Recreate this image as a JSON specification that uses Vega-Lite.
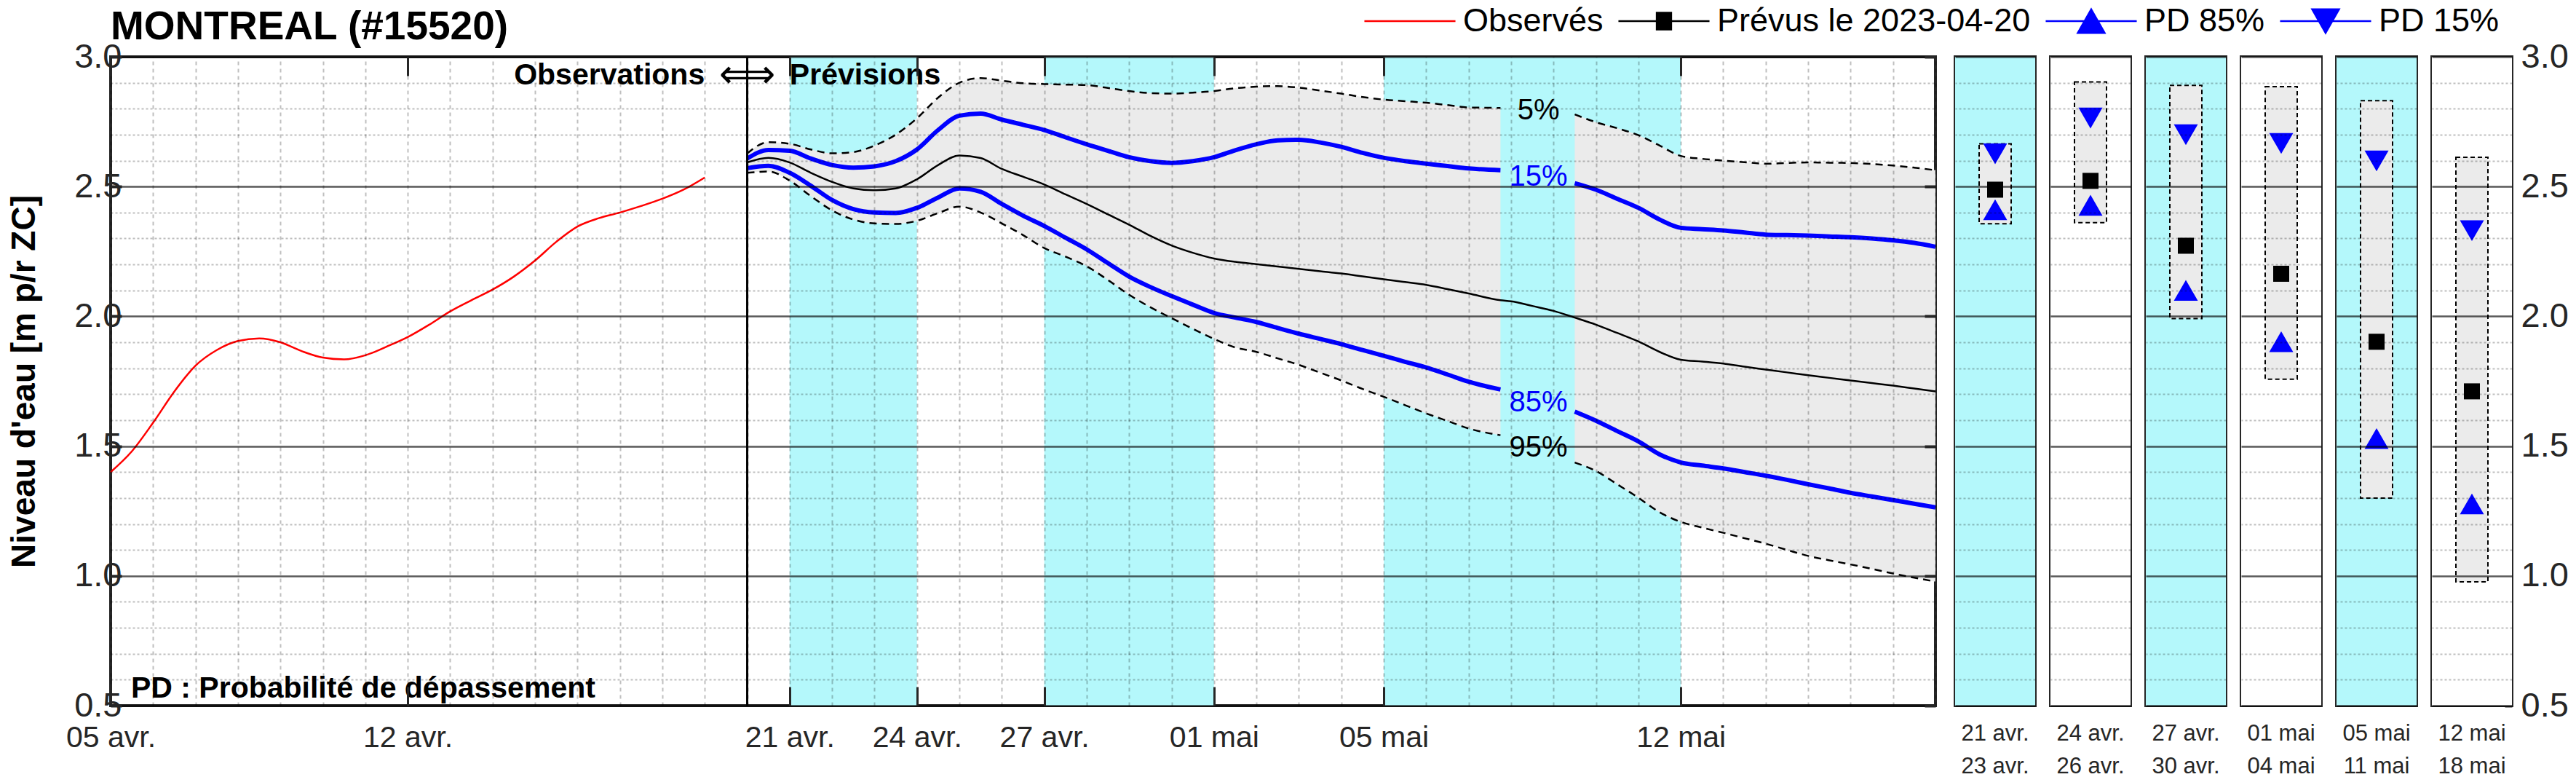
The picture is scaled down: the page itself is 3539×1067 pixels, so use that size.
{
  "$schema": "https://vega.github.io/schema/vega-lite/v6.json",
  "padding": {"left": 8, "top": 3, "right": 0, "bottom": 0},
  "background": "white",
  "config": {
    "font": "Liberation Sans",
    "view": {"stroke": "#262626", "strokeWidth": 4},
    "axis": {"labelColor": "#262626", "labelFont": "Liberation Sans"}
  },
  "datasets": {
    "obs": [
      {"t": "2023-04-05T00:00Z", "v": 1.40}, {"t": "2023-04-05T12:00Z", "v": 1.48},
      {"t": "2023-04-06T00:00Z", "v": 1.59}, {"t": "2023-04-06T12:00Z", "v": 1.71},
      {"t": "2023-04-07T00:00Z", "v": 1.81}, {"t": "2023-04-07T12:00Z", "v": 1.87},
      {"t": "2023-04-08T00:00Z", "v": 1.905}, {"t": "2023-04-08T12:00Z", "v": 1.915},
      {"t": "2023-04-09T00:00Z", "v": 1.90}, {"t": "2023-04-09T12:00Z", "v": 1.866},
      {"t": "2023-04-10T00:00Z", "v": 1.841}, {"t": "2023-04-10T12:00Z", "v": 1.834},
      {"t": "2023-04-11T00:00Z", "v": 1.85}, {"t": "2023-04-11T12:00Z", "v": 1.883},
      {"t": "2023-04-12T00:00Z", "v": 1.92}, {"t": "2023-04-12T12:00Z", "v": 1.967},
      {"t": "2023-04-13T00:00Z", "v": 2.019}, {"t": "2023-04-13T12:00Z", "v": 2.062},
      {"t": "2023-04-14T00:00Z", "v": 2.103}, {"t": "2023-04-14T12:00Z", "v": 2.153},
      {"t": "2023-04-15T00:00Z", "v": 2.215}, {"t": "2023-04-15T12:00Z", "v": 2.287},
      {"t": "2023-04-16T00:00Z", "v": 2.346}, {"t": "2023-04-16T12:00Z", "v": 2.378},
      {"t": "2023-04-17T00:00Z", "v": 2.40}, {"t": "2023-04-17T12:00Z", "v": 2.425},
      {"t": "2023-04-18T00:00Z", "v": 2.453}, {"t": "2023-04-18T12:00Z", "v": 2.488},
      {"t": "2023-04-19T00:00Z", "v": 2.535}
    ],
    "fc": [
      {"t": "2023-04-20T00:00Z", "p5": 2.628, "p15": 2.608, "med": 2.593, "p85": 2.571, "p95": 2.553},
      {"t": "2023-04-20T12:00Z", "p5": 2.671, "p15": 2.641, "med": 2.611, "p85": 2.580, "p95": 2.558},
      {"t": "2023-04-21T00:00Z", "p5": 2.665, "p15": 2.638, "med": 2.593, "p85": 2.553, "p95": 2.523},
      {"t": "2023-04-21T12:00Z", "p5": 2.643, "p15": 2.608, "med": 2.553, "p85": 2.503, "p95": 2.463},
      {"t": "2023-04-22T00:00Z", "p5": 2.628, "p15": 2.583, "med": 2.518, "p85": 2.448, "p95": 2.408},
      {"t": "2023-04-22T12:00Z", "p5": 2.633, "p15": 2.573, "med": 2.493, "p85": 2.413, "p95": 2.373},
      {"t": "2023-04-23T00:00Z", "p5": 2.658, "p15": 2.578, "med": 2.486, "p85": 2.400, "p95": 2.358},
      {"t": "2023-04-23T12:00Z", "p5": 2.700, "p15": 2.598, "med": 2.493, "p85": 2.398, "p95": 2.356},
      {"t": "2023-04-24T00:00Z", "p5": 2.763, "p15": 2.643, "med": 2.528, "p85": 2.418, "p95": 2.368},
      {"t": "2023-04-24T12:00Z", "p5": 2.843, "p15": 2.718, "med": 2.583, "p85": 2.458, "p95": 2.398},
      {"t": "2023-04-25T00:00Z", "p5": 2.900, "p15": 2.773, "med": 2.620, "p85": 2.493, "p95": 2.423},
      {"t": "2023-04-25T12:00Z", "p5": 2.918, "p15": 2.781, "med": 2.610, "p85": 2.480, "p95": 2.400},
      {"t": "2023-04-26T00:00Z", "p5": 2.908, "p15": 2.758, "med": 2.568, "p85": 2.433, "p95": 2.358},
      {"t": "2023-04-26T12:00Z", "p5": 2.898, "p15": 2.738, "med": 2.538, "p85": 2.388, "p95": 2.313},
      {"t": "2023-04-27T00:00Z", "p5": 2.895, "p15": 2.718, "med": 2.508, "p85": 2.348, "p95": 2.263},
      {"t": "2023-04-27T12:00Z", "p5": 2.893, "p15": 2.690, "med": 2.470, "p85": 2.303, "p95": 2.230},
      {"t": "2023-04-28T00:00Z", "p5": 2.891, "p15": 2.663, "med": 2.433, "p85": 2.258, "p95": 2.193},
      {"t": "2023-04-28T12:00Z", "p5": 2.880, "p15": 2.638, "med": 2.393, "p85": 2.205, "p95": 2.140},
      {"t": "2023-04-29T00:00Z", "p5": 2.868, "p15": 2.613, "med": 2.353, "p85": 2.153, "p95": 2.083},
      {"t": "2023-04-29T12:00Z", "p5": 2.860, "p15": 2.598, "med": 2.310, "p85": 2.113, "p95": 2.035},
      {"t": "2023-04-30T00:00Z", "p5": 2.858, "p15": 2.591, "med": 2.273, "p85": 2.078, "p95": 1.993},
      {"t": "2023-04-30T12:00Z", "p5": 2.862, "p15": 2.598, "med": 2.245, "p85": 2.045, "p95": 1.952},
      {"t": "2023-05-01T00:00Z", "p5": 2.868, "p15": 2.613, "med": 2.223, "p85": 2.013, "p95": 1.913},
      {"t": "2023-05-01T12:00Z", "p5": 2.879, "p15": 2.640, "med": 2.210, "p85": 1.995, "p95": 1.880},
      {"t": "2023-05-02T00:00Z", "p5": 2.885, "p15": 2.663, "med": 2.201, "p85": 1.978, "p95": 1.863},
      {"t": "2023-05-02T12:00Z", "p5": 2.887, "p15": 2.678, "med": 2.192, "p85": 1.955, "p95": 1.838},
      {"t": "2023-05-03T00:00Z", "p5": 2.881, "p15": 2.680, "med": 2.183, "p85": 1.933, "p95": 1.813},
      {"t": "2023-05-03T12:00Z", "p5": 2.870, "p15": 2.670, "med": 2.174, "p85": 1.913, "p95": 1.783},
      {"t": "2023-05-04T00:00Z", "p5": 2.858, "p15": 2.653, "med": 2.165, "p85": 1.893, "p95": 1.753},
      {"t": "2023-05-04T12:00Z", "p5": 2.845, "p15": 2.630, "med": 2.154, "p85": 1.870, "p95": 1.720},
      {"t": "2023-05-05T00:00Z", "p5": 2.835, "p15": 2.611, "med": 2.143, "p85": 1.848, "p95": 1.690},
      {"t": "2023-05-05T12:00Z", "p5": 2.829, "p15": 2.598, "med": 2.132, "p85": 1.825, "p95": 1.658},
      {"t": "2023-05-06T00:00Z", "p5": 2.823, "p15": 2.588, "med": 2.121, "p85": 1.803, "p95": 1.626},
      {"t": "2023-05-06T12:00Z", "p5": 2.814, "p15": 2.579, "med": 2.105, "p85": 1.776, "p95": 1.597},
      {"t": "2023-05-07T00:00Z", "p5": 2.805, "p15": 2.570, "med": 2.088, "p85": 1.748, "p95": 1.568},
      {"t": "2023-05-07T18:00Z", "p5": 2.803, "p15": 2.563, "med": 2.062, "p85": 1.718, "p95": 1.542},
      {"t": "2023-05-08T00:00Z", "p5": null, "p15": null, "med": 2.058, "p85": null, "p95": null},
      {"t": "2023-05-08T12:00Z", "p5": null, "p15": null, "med": 2.040, "p85": null, "p95": null},
      {"t": "2023-05-09T00:00Z", "p5": null, "p15": null, "med": 2.021, "p85": null, "p95": null},
      {"t": "2023-05-09T12:00Z", "p5": 2.778, "p15": 2.513, "med": 1.995, "p85": 1.633, "p95": 1.437},
      {"t": "2023-05-10T00:00Z", "p5": 2.748, "p15": 2.488, "med": 1.968, "p85": 1.598, "p95": 1.404},
      {"t": "2023-05-10T12:00Z", "p5": 2.725, "p15": 2.453, "med": 1.936, "p85": 1.558, "p95": 1.353},
      {"t": "2023-05-11T00:00Z", "p5": 2.698, "p15": 2.418, "med": 1.903, "p85": 1.518, "p95": 1.301},
      {"t": "2023-05-11T12:00Z", "p5": 2.658, "p15": 2.373, "med": 1.863, "p85": 1.468, "p95": 1.245},
      {"t": "2023-05-12T00:00Z", "p5": 2.618, "p15": 2.341, "med": 1.833, "p85": 1.437, "p95": 1.208},
      {"t": "2023-05-12T12:00Z", "p5": 2.607, "p15": 2.336, "med": 1.826, "p85": 1.425, "p95": 1.186},
      {"t": "2023-05-13T00:00Z", "p5": 2.600, "p15": 2.331, "med": 1.818, "p85": 1.414, "p95": 1.166},
      {"t": "2023-05-13T12:00Z", "p5": 2.594, "p15": 2.323, "med": 1.806, "p85": 1.400, "p95": 1.145},
      {"t": "2023-05-14T00:00Z", "p5": 2.588, "p15": 2.315, "med": 1.795, "p85": 1.386, "p95": 1.124},
      {"t": "2023-05-14T12:00Z", "p5": 2.591, "p15": 2.313, "med": 1.784, "p85": 1.370, "p95": 1.100},
      {"t": "2023-05-15T00:00Z", "p5": 2.593, "p15": 2.311, "med": 1.773, "p85": 1.353, "p95": 1.077},
      {"t": "2023-05-15T12:00Z", "p5": 2.592, "p15": 2.308, "med": 1.763, "p85": 1.337, "p95": 1.060},
      {"t": "2023-05-16T00:00Z", "p5": 2.591, "p15": 2.305, "med": 1.753, "p85": 1.320, "p95": 1.044},
      {"t": "2023-05-16T12:00Z", "p5": 2.587, "p15": 2.300, "med": 1.743, "p85": 1.306, "p95": 1.027},
      {"t": "2023-05-17T00:00Z", "p5": 2.581, "p15": 2.293, "med": 1.733, "p85": 1.292, "p95": 1.009},
      {"t": "2023-05-17T12:00Z", "p5": 2.573, "p15": 2.283, "med": 1.722, "p85": 1.278, "p95": 0.993},
      {"t": "2023-05-18T00:00Z", "p5": 2.563, "p15": 2.268, "med": 1.711, "p85": 1.264, "p95": 0.978}
    ],
    "bandes": [
      {"debut": "2023-04-21T00:00Z", "fin": "2023-04-24T00:00Z"},
      {"debut": "2023-04-27T00:00Z", "fin": "2023-05-01T00:00Z"},
      {"debut": "2023-05-05T00:00Z", "fin": "2023-05-12T00:00Z"}
    ],
    "pct": [
      {"t": "2023-05-08T15:30Z", "v": 2.793, "lab": "5%", "serie": "noir"},
      {"t": "2023-05-08T15:30Z", "v": 2.538, "lab": "15%", "serie": "bleu"},
      {"t": "2023-05-08T15:30Z", "v": 1.668, "lab": "85%", "serie": "bleu"},
      {"t": "2023-05-08T15:30Z", "v": 1.493, "lab": "95%", "serie": "noir"}
    ],
    "series": [
      {"serie": "Observés"},
      {"serie": "Prévus le 2023-04-20"},
      {"serie": "PD 85%"},
      {"serie": "PD 15%"}
    ],
    "periodes": [
      {"per": "21 avr.|23 avr.", "fond": "cyan", "haut": 2.665, "bas": 2.357, "med": 2.488, "p15": 2.626, "p85": 2.411},
      {"per": "24 avr.|26 avr.", "fond": "blanc", "haut": 2.903, "bas": 2.361, "med": 2.522, "p15": 2.764, "p85": 2.428},
      {"per": "27 avr.|30 avr.", "fond": "cyan", "haut": 2.890, "bas": 1.991, "med": 2.272, "p15": 2.700, "p85": 2.100},
      {"per": "01 mai|04 mai", "fond": "blanc", "haut": 2.885, "bas": 1.758, "med": 2.164, "p15": 2.666, "p85": 1.902},
      {"per": "05 mai|11 mai", "fond": "cyan", "haut": 2.831, "bas": 1.300, "med": 1.902, "p15": 2.599, "p85": 1.529},
      {"per": "12 mai|18 mai", "fond": "blanc", "haut": 2.613, "bas": 0.977, "med": 1.711, "p15": 2.330, "p85": 1.277}
    ]
  },
  "bounds": "flush",
  "spacing": 27,
  "resolve": {
    "scale": {"x": "independent", "y": "independent", "fill": "independent", "stroke": "independent", "shape": "independent", "strokeWidth": "independent"},
    "legend": {"fill": "independent", "stroke": "independent", "shape": "independent", "strokeWidth": "independent"}
  },
  "hconcat": [
    {
      "width": 2507,
      "height": 891,
      "title": {"text": "MONTREAL (#15520)", "anchor": "start", "frame": "group", "fontSize": 55, "font": "Liberation Sans", "fontWeight": "bold", "color": "#000000", "offset": -61},
      "resolve": {"axis": {"x": "independent", "y": "independent"}},
      "layer": [
        {
          "data": {"name": "bandes"},
          "mark": {"type": "rect", "color": "#B4F8FB"},
          "encoding": {
            "x": {
              "field": "debut", "type": "temporal",
              "scale": {"type": "utc", "domain": [{"year": 2023, "month": 4, "date": 5, "utc": true}, {"year": 2023, "month": 5, "date": 18, "utc": true}]},
              "axis": {
                "orient": "bottom",
                "title": null,
                "tickCount": {"interval": "day", "step": 1},
                "labelExpr": "indexof(['04-05','04-12','04-21','04-24','04-27','05-01','05-05','05-12'], utcFormat(datum.value, '%m-%d')) >= 0 ? utcFormat(datum.value, '%d') + (utcmonth(datum.value) == 3 ? ' avr.' : ' mai') : ''",
                "labelOverlap": false,
                "labelFlush": false,
                "labelFontSize": 41,
                "labelPadding": 50,
                "domain": false,
                "grid": true,
                "gridColor": "rgba(0,0,0,0.25)",
                "gridDash": [5, 5],
                "gridWidth": 2,
                "ticks": true,
                "tickSize": -26,
                "tickWidth": 3,
                "tickColor": "#262626",
                "tickOpacity": {"condition": {"test": "indexof(['04-05','04-12','04-21','04-24','04-27','05-01','05-05','05-12'], utcFormat(datum.value, '%m-%d')) >= 0", "value": 1}, "value": 0},
                "zindex": 1
              }
            },
            "x2": {"field": "fin"}
          }
        },
        {
          "data": {"name": "fc"},
          "mark": {"type": "area", "color": "#EBEBEB", "interpolate": "monotone"},
          "encoding": {
            "x": {
              "field": "t", "type": "temporal",
              "axis": {
                "orient": "top", "title": null, "labels": false, "grid": false, "domain": false,
                "tickCount": {"interval": "day", "step": 1},
                "ticks": true, "tickSize": -26, "tickWidth": 3, "tickColor": "#262626",
                "tickOpacity": {"condition": {"test": "indexof(['04-05','04-12','04-21','04-24','04-27','05-01','05-05','05-12'], utcFormat(datum.value, '%m-%d')) >= 0", "value": 1}, "value": 0},
                "zindex": 1
              }
            },
            "y": {
              "field": "p5", "type": "quantitative",
              "scale": {"domain": [0.5, 3.0], "nice": false, "zero": false},
              "axis": {
                "orient": "left",
                "title": "Niveau d'eau [m p/r ZC]",
                "titleFontSize": 46,
                "titleFontWeight": "bold",
                "titleFont": "Liberation Sans",
                "titleColor": "#000000",
                "titlePadding": 44,
                "values": [0.5, 0.6, 0.7, 0.8, 0.9, 1.0, 1.1, 1.2, 1.3, 1.4, 1.5, 1.6, 1.7, 1.8, 1.9, 2.0, 2.1, 2.2, 2.3, 2.4, 2.5, 2.6, 2.7, 2.8, 2.9, 3.0],
                "labelExpr": "abs(datum.value * 2 - round(datum.value * 2)) < 0.001 ? format(datum.value, '.1f') : ''",
                "labelOverlap": false,
                "labelFontSize": 47,
                "labelPadding": 0,
                "domain": false,
                "grid": true,
                "gridColor": {"condition": {"test": "abs(datum.value * 2 - round(datum.value * 2)) < 0.001", "value": "rgba(0,0,0,0.65)"}, "value": "rgba(0,0,0,0.25)"},
                "gridDash": {"condition": {"test": "abs(datum.value * 2 - round(datum.value * 2)) < 0.001", "value": []}, "value": [3, 3]},
                "gridWidth": {"condition": {"test": "abs(datum.value * 2 - round(datum.value * 2)) < 0.001", "value": 2.5}, "value": 2},
                "ticks": true,
                "tickSize": -15,
                "tickWidth": 4,
                "tickColor": "#262626",
                "tickOpacity": {"condition": {"test": "abs(datum.value * 2 - round(datum.value * 2)) < 0.001", "value": 1}, "value": 0},
                "zindex": 1
              }
            },
            "y2": {"field": "p95"}
          }
        },
        {
          "data": {"name": "fc"},
          "mark": {"type": "line", "color": "#000000", "strokeWidth": 2.5, "strokeDash": [10, 7], "interpolate": "monotone", "invalid": "break-paths-show-domains"},
          "encoding": {"x": {"field": "t", "type": "temporal", "axis": null}, "y": {"field": "p5", "type": "quantitative", "axis": null}}
        },
        {
          "data": {"name": "fc"},
          "mark": {"type": "line", "color": "#000000", "strokeWidth": 2.5, "strokeDash": [10, 7], "interpolate": "monotone", "invalid": "break-paths-show-domains"},
          "encoding": {"x": {"field": "t", "type": "temporal", "axis": null}, "y": {"field": "p95", "type": "quantitative", "axis": null}}
        },
        {
          "data": {"name": "fc"},
          "mark": {"type": "line", "color": "#000000", "strokeWidth": 2.5, "interpolate": "monotone"},
          "encoding": {"x": {"field": "t", "type": "temporal", "axis": null}, "y": {"field": "med", "type": "quantitative", "axis": null}}
        },
        {
          "data": {"name": "fc"},
          "mark": {"type": "line", "color": "#0000FF", "strokeWidth": 6, "interpolate": "monotone", "invalid": "break-paths-show-domains"},
          "encoding": {"x": {"field": "t", "type": "temporal", "axis": null}, "y": {"field": "p15", "type": "quantitative", "axis": null}}
        },
        {
          "data": {"name": "fc"},
          "mark": {"type": "line", "color": "#0000FF", "strokeWidth": 6, "interpolate": "monotone", "invalid": "break-paths-show-domains"},
          "encoding": {"x": {"field": "t", "type": "temporal", "axis": null}, "y": {"field": "p85", "type": "quantitative", "axis": null}}
        },
        {
          "data": {"name": "obs"},
          "mark": {"type": "line", "color": "#FF0000", "strokeWidth": 2.5, "interpolate": "monotone"},
          "encoding": {
            "x": {"field": "t", "type": "temporal", "axis": null},
            "y": {
              "field": "v", "type": "quantitative",
              "axis": {
                "orient": "right", "title": null, "labels": false, "grid": false, "domain": false,
                "values": [0.5, 1.0, 1.5, 2.0, 2.5, 3.0],
                "ticks": true, "tickSize": -15, "tickWidth": 4, "tickColor": "#262626", "zindex": 1
              }
            }
          }
        },
        {
          "data": {"values": [{"t": "2023-04-20T00:00Z"}]},
          "mark": {"type": "rule", "color": "#000000", "strokeWidth": 3},
          "encoding": {"x": {"field": "t", "type": "temporal", "axis": null}}
        },
        {
          "data": {"name": "pct"},
          "transform": [{"filter": "datum.serie == 'noir'"}],
          "mark": {"type": "text", "fontSize": 40, "font": "Liberation Sans", "color": "#000000", "align": "center", "baseline": "middle"},
          "encoding": {"x": {"field": "t", "type": "temporal", "axis": null}, "y": {"field": "v", "type": "quantitative", "axis": null}, "text": {"field": "lab"}}
        },
        {
          "data": {"name": "pct"},
          "transform": [{"filter": "datum.serie == 'bleu'"}],
          "mark": {"type": "text", "fontSize": 40, "font": "Liberation Sans", "color": "#0000FF", "align": "center", "baseline": "middle"},
          "encoding": {"x": {"field": "t", "type": "temporal", "axis": null}, "y": {"field": "v", "type": "quantitative", "axis": null}, "text": {"field": "lab"}}
        },
        {
          "data": {"values": [{"t": "2023-04-19T00:00Z", "v": 2.927, "txt": "Observations"}]},
          "mark": {"type": "text", "fontSize": 41, "font": "Liberation Sans", "fontWeight": "bold", "color": "#000000", "align": "right", "baseline": "middle"},
          "encoding": {"x": {"field": "t", "type": "temporal", "axis": null}, "y": {"field": "v", "type": "quantitative", "axis": null}, "text": {"field": "txt"}}
        },
        {
          "data": {"values": [{"t": "2023-04-20T00:00Z", "v": 2.927, "txt": "⟺"}]},
          "mark": {"type": "text", "fontSize": 54, "font": "DejaVu Sans", "color": "#000000", "align": "center", "baseline": "middle"},
          "encoding": {"x": {"field": "t", "type": "temporal", "axis": null}, "y": {"field": "v", "type": "quantitative", "axis": null}, "text": {"field": "txt"}}
        },
        {
          "data": {"values": [{"t": "2023-04-21T00:00Z", "v": 2.927, "txt": "Prévisions"}]},
          "mark": {"type": "text", "fontSize": 41, "font": "Liberation Sans", "fontWeight": "bold", "color": "#000000", "align": "left", "baseline": "middle"},
          "encoding": {"x": {"field": "t", "type": "temporal", "axis": null}, "y": {"field": "v", "type": "quantitative", "axis": null}, "text": {"field": "txt"}}
        },
        {
          "data": {"values": [{"t": "2023-04-05T11:30Z", "v": 0.532, "txt": "PD : Probabilité de dépassement"}]},
          "mark": {"type": "text", "fontSize": 41, "font": "Liberation Sans", "fontWeight": "bold", "color": "#000000", "align": "left", "baseline": "alphabetic"},
          "encoding": {"x": {"field": "t", "type": "temporal", "axis": null}, "y": {"field": "v", "type": "quantitative", "axis": null}, "text": {"field": "txt"}}
        },
        {
          "data": {"name": "series"},
          "mark": {"type": "point", "opacity": 0},
          "encoding": {
            "x": {"datum": {"year": 2023, "month": 4, "date": 10, "utc": true}, "type": "temporal", "axis": null},
            "y": {"datum": 1.0, "type": "quantitative", "axis": null},
            "fill": {
              "field": "serie", "type": "nominal",
              "scale": {"domain": ["Observés", "Prévus le 2023-04-20", "PD 85%", "PD 15%"], "range": ["#FF0000", "#000000", "#0000FF", "#0000FF"]},
              "legend": {"orient": "none", "legendX": 1761, "legendY": -73, "direction": "horizontal", "columns": 4, "title": null, "symbolSize": 2025, "symbolOpacity": 1, "labelFontSize": 45, "labelFont": "Liberation Sans", "labelColor": "#000000", "labelOffset": 49, "columnPadding": 15, "labelLimit": 0, "padding": 0}
            },
            "stroke": {
              "field": "serie", "type": "nominal",
              "scale": {"domain": ["Observés", "Prévus le 2023-04-20", "PD 85%", "PD 15%"], "range": ["#FF0000", "#000000", "#0000FF", "#0000FF"]},
              "legend": {"orient": "none", "legendX": 1761, "legendY": -73, "direction": "horizontal", "columns": 4, "title": null, "symbolSize": 2025, "symbolOpacity": 1, "labelFontSize": 45, "labelFont": "Liberation Sans", "labelColor": "#000000", "labelOffset": 49, "columnPadding": 15, "labelLimit": 0, "padding": 0}
            },
            "shape": {
              "field": "serie", "type": "nominal",
              "scale": {"domain": ["Observés", "Prévus le 2023-04-20", "PD 85%", "PD 15%"], "range": ["M-2.78,0H2.78", "M-2.78,0H2.78M-0.44,-0.51H0.44V0.51H-0.44Z", "M-2.78,0H2.78M0,-0.72L0.82,0.72H-0.82Z", "M-2.78,0H2.78M0,0.72L0.82,-0.72H-0.82Z"]},
              "legend": {"orient": "none", "legendX": 1761, "legendY": -73, "direction": "horizontal", "columns": 4, "title": null, "symbolSize": 2025, "symbolOpacity": 1, "labelFontSize": 45, "labelFont": "Liberation Sans", "labelColor": "#000000", "labelOffset": 49, "columnPadding": 15, "labelLimit": 0, "padding": 0}
            },
            "strokeWidth": {
              "field": "serie", "type": "ordinal",
              "scale": {"domain": ["Observés", "Prévus le 2023-04-20", "PD 85%", "PD 15%"], "range": [2.5, 2.5, 6, 6]},
              "legend": {"orient": "none", "legendX": 1761, "legendY": -73, "direction": "horizontal", "columns": 4, "title": null, "symbolSize": 2025, "symbolOpacity": 1, "labelFontSize": 45, "labelFont": "Liberation Sans", "labelColor": "#000000", "labelOffset": 49, "columnPadding": 15, "labelLimit": 0, "padding": 0}
            }
          }
        }
      ]
    },
    {
      "data": {"name": "periodes"},
      "facet": {
        "column": {
          "field": "per", "type": "nominal",
          "sort": ["21 avr.|23 avr.", "24 avr.|26 avr.", "27 avr.|30 avr.", "01 mai|04 mai", "05 mai|11 mai", "12 mai|18 mai"],
          "title": null,
          "header": {"labelOrient": "bottom", "labelExpr": "split(datum.value, '|')", "labelFontSize": 31, "labelFont": "Liberation Sans", "labelColor": "#262626", "labelLineHeight": 45, "labelPadding": 22}
        }
      },
      "spacing": 21,
      "bounds": "flush",
      "spec": {
        "width": 110,
        "height": 891,
        "resolve": {"axis": {"x": "independent", "y": "independent"}},
        "layer": [
          {
            "mark": {"type": "rect"},
            "encoding": {
              "x": {
                "datum": 0, "type": "quantitative",
                "scale": {"domain": [0, 1], "nice": false, "zero": false},
                "axis": {"orient": "bottom", "values": [0.5], "labels": false, "grid": false, "domain": false, "title": null, "ticks": true, "tickSize": -12, "tickWidth": 3, "tickColor": "#262626", "zindex": 1}
              },
              "x2": {"datum": 1},
              "y": {
                "datum": 0.5, "type": "quantitative",
                "scale": {"domain": [0.5, 3.0], "nice": false, "zero": false},
                "axis": {
                  "orient": "right",
                  "title": null,
                  "values": [0.5, 0.6, 0.7, 0.8, 0.9, 1.0, 1.1, 1.2, 1.3, 1.4, 1.5, 1.6, 1.7, 1.8, 1.9, 2.0, 2.1, 2.2, 2.3, 2.4, 2.5, 2.6, 2.7, 2.8, 2.9, 3.0],
                  "labelExpr": "abs(datum.value * 2 - round(datum.value * 2)) < 0.001 ? format(datum.value, '.1f') : ''",
                  "labelOverlap": false,
                  "labelFontSize": 47,
                  "labelPadding": 22,
                  "domain": false,
                  "grid": true,
                  "gridColor": {"condition": {"test": "abs(datum.value * 2 - round(datum.value * 2)) < 0.001", "value": "rgba(0,0,0,0.65)"}, "value": "rgba(0,0,0,0.25)"},
                  "gridDash": {"condition": {"test": "abs(datum.value * 2 - round(datum.value * 2)) < 0.001", "value": []}, "value": [3, 3]},
                  "gridWidth": {"condition": {"test": "abs(datum.value * 2 - round(datum.value * 2)) < 0.001", "value": 2.5}, "value": 2},
                  "ticks": true,
                  "tickSize": -10,
                  "tickWidth": 4,
                  "tickColor": "#262626",
                  "tickOpacity": {"condition": {"test": "abs(datum.value * 2 - round(datum.value * 2)) < 0.001", "value": 1}, "value": 0},
                  "zindex": 1
                }
              },
              "y2": {"datum": 3.0},
              "fill": {"field": "fond", "type": "nominal", "scale": {"domain": ["cyan", "blanc"], "range": ["#B4F8FB", "#FFFFFF"]}, "legend": null}
            }
          },
          {
            "mark": {"type": "rect", "fill": "#EBEBEB", "stroke": "#000000", "strokeWidth": 2, "strokeDash": [6, 4]},
            "encoding": {
              "x": {
                "datum": 0.3, "type": "quantitative",
                "axis": {"orient": "top", "values": [0.5], "labels": false, "grid": false, "domain": false, "title": null, "ticks": true, "tickSize": -12, "tickWidth": 3, "tickColor": "#262626", "zindex": 1}
              },
              "x2": {"datum": 0.7},
              "y": {"field": "haut", "type": "quantitative", "axis": null},
              "y2": {"field": "bas"}
            }
          },
          {
            "mark": {"type": "point", "shape": "square", "filled": true, "color": "#000000", "size": 484, "opacity": 1},
            "encoding": {"x": {"datum": 0.5, "type": "quantitative", "axis": null}, "y": {"field": "med", "type": "quantitative", "axis": null}}
          },
          {
            "mark": {"type": "point", "shape": "triangle-up", "filled": true, "color": "#0000FF", "size": 1089, "opacity": 1},
            "encoding": {"x": {"datum": 0.5, "type": "quantitative", "axis": null}, "y": {"field": "p85", "type": "quantitative", "axis": null}}
          },
          {
            "mark": {"type": "point", "shape": "triangle-down", "filled": true, "color": "#0000FF", "size": 1089, "opacity": 1},
            "encoding": {"x": {"datum": 0.5, "type": "quantitative", "axis": null}, "y": {"field": "p15", "type": "quantitative", "axis": null}}
          }
        ]
      }
    }
  ]
}
